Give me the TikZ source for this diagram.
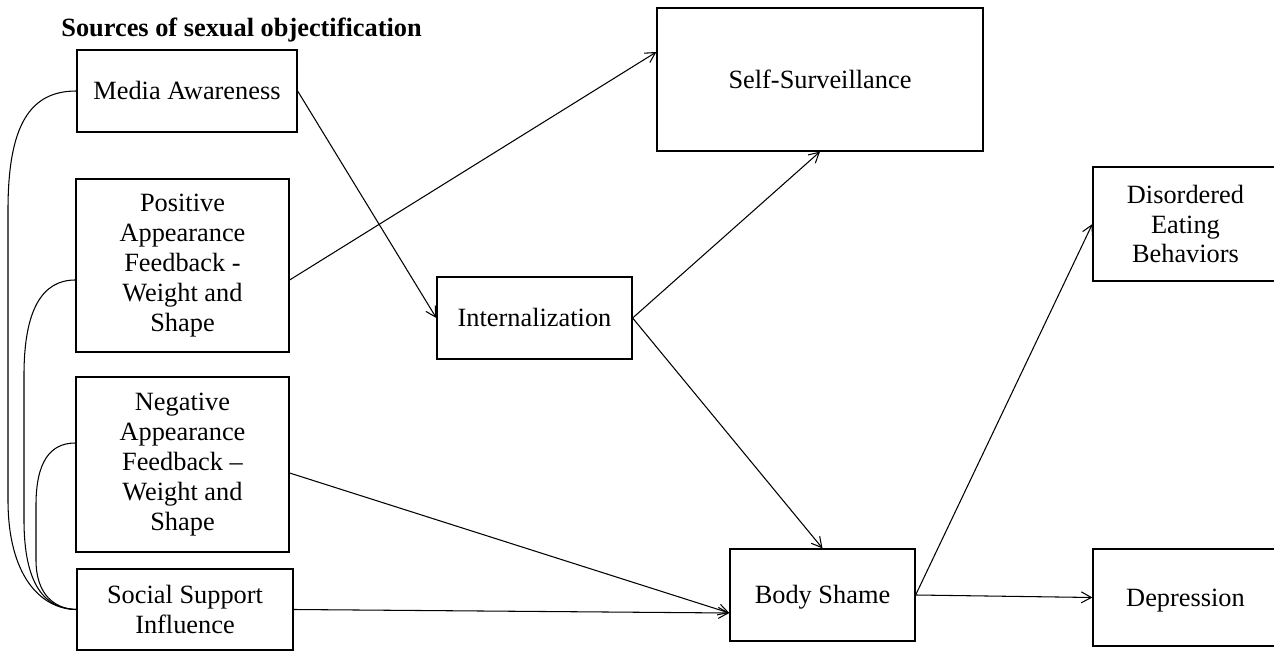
\documentclass[tikz,border=0pt]{standalone}
\usepackage{fontspec}
\setmainfont{Liberation Serif}
\usetikzlibrary{arrows.meta}
\newcommand{\boxfont}{\fontsize{15}{17}\selectfont}
\tikzset{
  box/.style={draw, line width=0.75pt, inner sep=0pt, align=center, font=\boxfont},
  oneline/.style={text height=13.4pt, text depth=3.25pt},
  conn/.style={line width=0.6pt},
  arr/.style={line width=0.6pt, -{Straight Barb[length=2mm,width=2.2mm]}},
}
\begin{document}
\begin{tikzpicture}[x=0.02cm, y=-0.02cm]
\useasboundingbox (0,0) rectangle (1276,662);
\clip (0,0) rectangle (1276,662);

\node[anchor=base west, inner sep=0pt, font=\boxfont\bfseries] (title) at (61,37) {Sources of sexual objectification};

\node[box, oneline, minimum width=4.4cm, minimum height=1.64cm] (media) at (187,91) {Media Awareness};
\node[box, minimum width=4.26cm, minimum height=3.46cm] (pos) at (182.5,265.5) {Positive\\Appearance\\Feedback -\\Weight and\\Shape};
\node[box, minimum width=4.26cm, minimum height=3.5cm] (neg) at (182.5,464.5) {Negative\\Appearance\\Feedback --\\Weight and\\Shape};
\node[box, minimum width=4.32cm, minimum height=1.62cm] (soc) at (185,609.5) {Social Support\\Influence};
\node[box, oneline, minimum width=6.52cm, minimum height=2.86cm] (self) at (820,79.5) {Self-Surveillance};
\node[box, oneline, minimum width=3.9cm, minimum height=1.64cm] (intl) at (534.5,318) {Internalization};
\node[box, oneline, minimum width=3.7cm, minimum height=1.84cm] (body) at (822.5,595) {Body Shame};
\node[box, minimum width=3.7cm, minimum height=2.28cm] (dis) at (1185.5,224) {Disordered\\Eating\\Behaviors};
\node[box, oneline, minimum width=3.7cm, minimum height=1.94cm] (dep) at (1185.5,597.5) {Depression};
% the right sides of these two boxes lie beyond the page: cover them
\fill[white] (1274,150) rectangle (1290,662);

% arrows
\draw[arr] (media.east) -- (intl.west);
\draw[arr] ([yshift=-0.29cm]pos.east) -- ([yshift=0.55cm]self.west);
\draw[arr] (intl.east) -- (self.south);
\draw[arr] (intl.east) -- (body.north);
\draw[arr] ([yshift=-0.17cm]neg.east) -- ([yshift=-0.36cm]body.west);
\draw[arr] (soc.east) -- ([yshift=-0.36cm]body.west);
\draw[arr] (body.east) -- (dis.west);
\draw[arr] (body.east) -- (dep.west);

% correlations
\draw[conn] (media.west) .. controls (30,91) and (8,125) .. (8,210) -- (8,500) .. controls (8,575) and (40,609) .. (soc.west);
\draw[conn] ([yshift=-0.29cm]pos.west) .. controls (42,280) and (24,310) .. (24,375) -- (24,520) .. controls (24,585) and (45,609) .. (soc.west);
\draw[conn] ([yshift=0.43cm]neg.west) .. controls (50,443) and (36,462) .. (36,505) -- (36,560) .. controls (36,595) and (55,609) .. (soc.west);
\end{tikzpicture}
\end{document}
